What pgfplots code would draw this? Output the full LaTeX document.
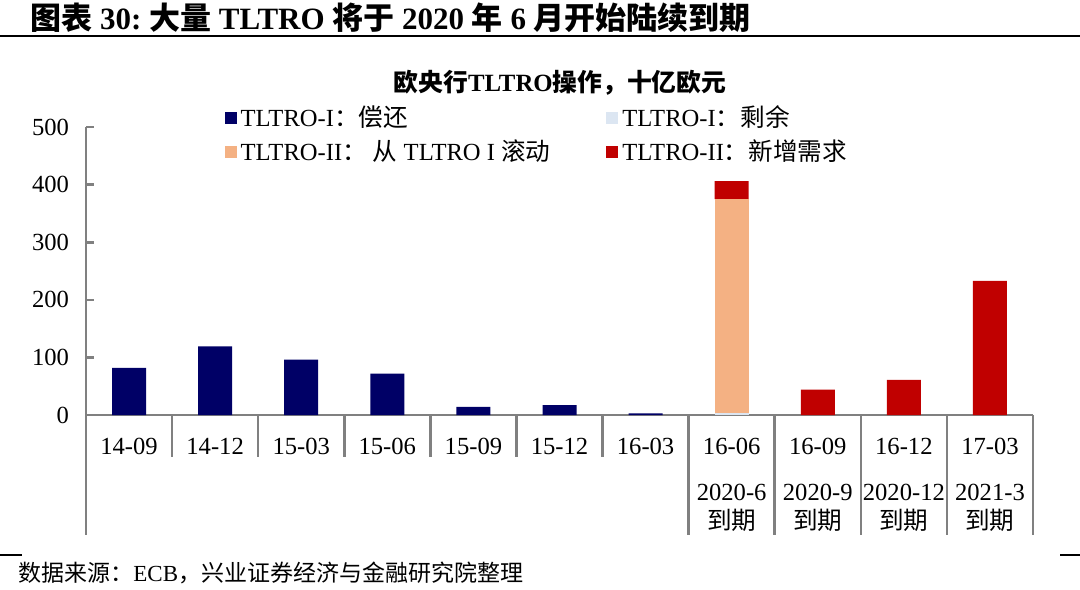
\documentclass[border=0pt]{standalone}
\usepackage{pgfplots}
\pgfplotsset{compat=1.18}
\usepackage{fontspec}
\setmainfont{Liberation Serif}
\newfontfamily\cjk{Noto Sans CJK SC}
\definecolor{navy}{RGB}{0,0,102}
\definecolor{lblue}{RGB}{220,230,242}
\definecolor{lorange}{RGB}{244,177,131}
\definecolor{dred}{RGB}{192,0,0}
\definecolor{axgray}{RGB}{128,128,128}
\begin{document}
\begin{tikzpicture}
\useasboundingbox (0,0) rectangle (540pt,294.5pt);
\begin{scope}[x=0.5pt,y=-0.5pt,shift={(0,294.5pt)}]
\node[anchor=west,inner sep=0] at (30,18) {\fontsize{15.5}{17}\selectfont\bfseries{\cjk\bfseries 图表} 30:\ {\cjk\bfseries 大量} TLTRO {\cjk\bfseries 将于} 2020 {\cjk\bfseries 年} 6 {\cjk\bfseries 月开始陆续到期}};
\draw[line width=0.6pt] (0,36) -- (1080,36);
\draw[line width=0.6pt] (0,555) -- (22,555);
\draw[line width=0.6pt] (1060,555) -- (1080,555);
\node[anchor=west,inner sep=0] at (18,573) {\fontsize{11.5}{13}\selectfont{\cjk 数据来源：}ECB{\cjk ，兴业证券经济与金融研究院整理}};
\node[inner sep=0] at (560,83) {\fontsize{12.4}{14}\selectfont\bfseries{\cjk\bfseries 欧央行}TLTRO{\cjk\bfseries 操作，十亿欧元}};
\end{scope}
\begin{axis}[
  at={(43pt,87pt)}, anchor=south west,
  scale only axis, width=473.5pt, height=144pt,
  ybar stacked, bar width=17pt,
  xmin=-0.5, xmax=10.5, ymin=0, ymax=500,
  axis x line=bottom, axis y line=left,
  axis line style={-, draw=axgray, line width=1.3pt},
  xtick={0,...,10},
  xticklabels={14-09,14-12,15-03,15-06,15-09,15-12,16-03,16-06,16-09,16-12,17-03},
  major x tick style={draw=none},
  ytick={0,100,...,500},
  major y tick style={draw=axgray, line width=1.3pt},
  major tick length=4pt, tick align=inside,
  tick label style={font=\fontsize{12.3}{14}\selectfont},
  /pgf/number format/assume math mode=true,
  yticklabel style={xshift=-5pt},
  xticklabel style={yshift=-8pt},
  clip=false,
  legend columns=2,
  legend style={at={(0.146,1.088)}, anchor=north west, draw=none, fill=none,
    font=\fontsize{12.3}{14}\selectfont, /tikz/every even column/.append style={column sep=26pt},
    row sep=1pt, inner sep=0pt},
  legend cell align=left,
  legend image code/.code={\fill[#1] (0pt,-3pt) rectangle (6pt,3pt);},
]
\addplot[fill=navy, draw=none] coordinates {(0,82) (1,119) (2,96) (3,72) (4,14) (5,17) (6,3) (7,0) (8,0) (9,0) (10,0)};
\addplot[fill=lblue, draw=none] coordinates {(0,0) (1,0) (2,0) (3,0) (4,0) (5,0) (6,0) (7,3) (8,0) (9,0) (10,0)};
\addplot[fill=lorange, draw=none] coordinates {(0,0) (1,0) (2,0) (3,0) (4,0) (5,0) (6,0) (7,372) (8,0) (9,0) (10,0)};
\addplot[fill=dred, draw=none] coordinates {(0,0) (1,0) (2,0) (3,0) (4,0) (5,0) (6,0) (7,31) (8,44) (9,61) (10,233)};
\legend{TLTRO-I{\cjk ：偿还}, TLTRO-I{\cjk ：剩余}, TLTRO-II{\cjk ：}\ {\cjk 从} TLTRO I {\cjk 滚动}, TLTRO-II{\cjk ：新增需求}}
\foreach \b in {0.5,1.5,2.5,3.5,4.5,5.5} {
  \edef\tmp{\noexpand\draw[axgray, line width=1.3pt] (axis cs:\b,0) -- ++(0pt,-21pt);}\tmp
}
\foreach \b in {-0.5,6.5,7.5,8.5,9.5,10.5} {
  \edef\tmp{\noexpand\draw[axgray, line width=1.3pt] (axis cs:\b,0) -- ++(0pt,-60pt);}\tmp
}
\node[font=\fontsize{12.3}{14}\selectfont] at ([yshift=-38.5pt]axis cs:7,0) {2020-6};
\node[font=\fontsize{12.3}{14}\selectfont] at ([yshift=-38.5pt]axis cs:8,0) {2020-9};
\node[font=\fontsize{12.3}{14}\selectfont] at ([yshift=-38.5pt]axis cs:9,0) {2020-12};
\node[font=\fontsize{12.3}{14}\selectfont] at ([yshift=-38.5pt]axis cs:10,0) {2021-3};
\foreach \c in {7,8,9,10} {
  \edef\tmp{\noexpand\node[font=\noexpand\fontsize{12.3}{14}\noexpand\selectfont\noexpand\cjk] at ([yshift=-52.5pt]axis cs:\c,0) {到期};}\tmp
}
\end{axis}
\end{tikzpicture}
\end{document}
